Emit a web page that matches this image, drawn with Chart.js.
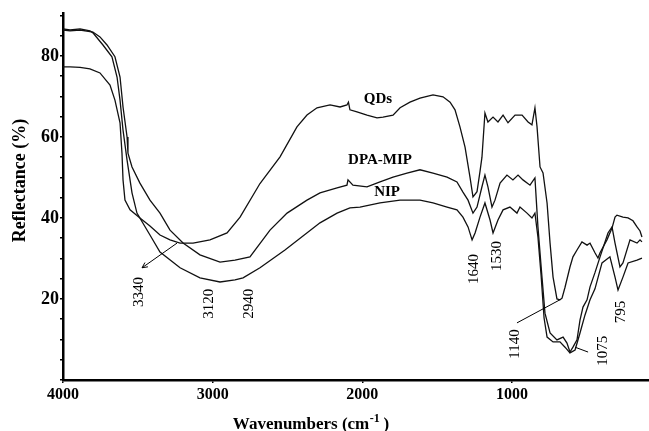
<!DOCTYPE html>
<html>
<head>
<meta charset="utf-8">
<script src="https://cdn.jsdelivr.net/npm/chart.js@4/dist/chart.umd.min.js"></script>
<style>
html,body{margin:0;padding:0;background:#fff;}
canvas{display:block;}
</style>
</head>
<body>
<canvas id="c" width="649" height="431"></canvas>
<script>
// ---- data (wavenumber in axis units as drawn, reflectance %) ----
const qdsX = [4000,3953,3886,3820,3753,3686,3653,3619,3606,3599,3586,3552,3486,3419,3352,3285,3218,3131,3018,2904,2817,2684,2550,2437,2370,2303,2216,2149,2103,2093,2083,2036,1969,1902,1862,1795,1748,1682,1615,1528,1461,1414,1381,1348,1314,1281,1261,1234,1214,1201,1181,1161,1127,1094,1060,1027,980,933,893,867,847,833,813,793,766,746,726,700,680,666,646,613,593,566,533,499,479,446,426,412,366,332,312,299,259,225,192,165,145,132];
const qdsY = [77.3,77.3,77.2,76.8,75.8,72.8,69.1,63.5,56.0,49.4,44.4,42.0,40.0,38.0,35.8,34.6,33.8,33.8,34.6,36.3,40.2,48.5,55.1,62.5,65.4,67.2,67.9,67.4,67.9,68.6,66.7,66.2,65.4,64.7,64.9,65.4,67.2,68.6,69.6,70.4,69.9,68.6,66.7,62.5,57.5,50.1,45.2,46.5,51.5,55.0,65.9,63.7,64.9,63.7,65.4,63.5,65.4,65.4,63.7,63.0,67.2,62.5,52.6,51.1,43.7,33.8,25.4,20.0,19.8,20.2,22.9,27.9,30.4,32.1,34.1,33.3,33.8,31.4,30.1,31.4,34.6,37.5,40.2,40.7,40.2,40.0,39.3,37.8,36.8,35.3];

const mipX = [4000,3953,3886,3820,3800,3753,3706,3653,3619,3599,3572,3566,3539,3486,3419,3352,3285,3198,3085,2951,2851,2751,2617,2503,2370,2283,2169,2103,2096,2063,1969,1882,1795,1702,1615,1528,1434,1368,1328,1294,1261,1234,1201,1181,1161,1134,1114,1080,1034,994,960,927,880,847,827,800,780,746,700,659,633,613,593,566,546,526,499,479,446,412,359,332,312,279,259,212,165,145,132];
const mipY = [86.4,86.2,86.4,86.0,85.9,84.7,82.7,79.8,74.8,67.4,60.0,56.0,52.6,48.6,44.4,41.2,37.0,33.8,30.9,29.1,29.6,30.4,37.0,41.2,44.4,46.2,47.4,48.1,49.4,48.1,47.7,48.9,50.1,51.1,51.9,51.1,50.1,48.9,46.4,44.4,41.2,42.7,47.7,50.6,47.7,42.7,44.4,48.6,50.6,49.4,50.6,49.4,48.1,49.9,37.8,25.4,16.5,11.6,9.9,10.6,9.1,6.9,8.1,9.9,14.8,18.0,19.8,23.0,26.5,30.4,36.3,37.8,33.8,27.9,28.9,34.6,33.8,34.6,34.1];

const nipX = [4000,3953,3886,3820,3800,3733,3673,3639,3619,3599,3572,3539,3506,3419,3352,3218,3085,2951,2851,2797,2684,2517,2283,2169,2083,2016,1882,1748,1615,1528,1434,1368,1328,1294,1267,1247,1214,1181,1147,1127,1094,1060,1014,967,947,900,867,847,827,806,786,766,726,680,646,613,579,546,513,479,446,399,346,312,292,259,225,165,132];
const nipY = [86.7,86.4,86.7,86.2,85.7,82.7,79.8,74.8,69.1,61.7,54.3,46.2,41.2,35.8,31.6,27.7,25.2,24.2,24.7,25.2,27.7,32.1,38.8,41.2,42.5,42.7,43.7,44.4,44.4,43.7,42.7,42.0,40.2,37.8,34.6,36.3,40.2,43.7,39.5,36.3,39.5,42.0,42.7,41.2,42.7,41.2,40.0,41.2,35.3,25.9,15.3,10.6,9.4,9.4,8.1,6.7,7.4,11.6,16.0,19.8,22.5,28.9,30.4,25.4,22.2,25.4,28.9,29.6,30.1];

const xTickValues = [4000,3000,2000,1000];
const yTickValues = [0,5,10,15,20,25,30,35,40,45,50,55,60,65,70,75,80,85,90];
const yLabelValues = [20,40,60,80];

// series names and their label anchors
const seriesNames = ['QDs','DPA-MIP','NIP'];
const seriesLabelX = [1896,1882,1835];
const seriesLabelY = [69.4,54.3,46.4];

// peak annotations
const peakText = ['3340','3120','2940','1640','1530','1140','1075','795'];
const peakX    = [3499,3031,2764,1261,1107,987,399,279];
const peakY    = [21.7,18.8,18.8,27.4,30.6,8.9,7.2,16.8];

// leader lines [x1,y1,x2,y2,arrowhead]
const leaderFromX = [3238, 967, 579];
const leaderFromY = [33.8, 14.1, 8.1];
const leaderToX   = [3472, 680, 492];
const leaderToY   = [27.7, 19.8, 6.9];
const leaderArrow = [true, false, false];

const toPts = (xs, ys) => xs.map((x, i) => ({x: x, y: ys[i]}));

const annot = {
  id: 'annot',
  afterDatasetsDraw(chart) {
    const {ctx, scales: {x, y}} = chart;
    ctx.save();
    ctx.fillStyle = '#000';
    ctx.strokeStyle = '#000';
    // series labels
    ctx.font = 'bold 15px "Liberation Serif"';
    ctx.textAlign = 'center';
    ctx.textBaseline = 'middle';
    seriesNames.forEach((n, i) => {
      ctx.fillText(n, x.getPixelForValue(seriesLabelX[i]), y.getPixelForValue(seriesLabelY[i]));
    });
    // peak labels (rotated)
    ctx.font = '15px "Liberation Serif"';
    peakText.forEach((t, i) => {
      ctx.save();
      ctx.translate(x.getPixelForValue(peakX[i]), y.getPixelForValue(peakY[i]));
      ctx.rotate(-Math.PI / 2);
      ctx.fillText(t, 0, 1);
      ctx.restore();
    });
    // leader lines
    ctx.lineWidth = 1;
    leaderFromX.forEach((_, i) => {
      const x1 = x.getPixelForValue(leaderFromX[i]), y1 = y.getPixelForValue(leaderFromY[i]);
      const x2 = x.getPixelForValue(leaderToX[i]), y2 = y.getPixelForValue(leaderToY[i]);
      ctx.beginPath(); ctx.moveTo(x1, y1); ctx.lineTo(x2, y2); ctx.stroke();
      if (leaderArrow[i]) {
        const a = Math.atan2(y2 - y1, x2 - x1), L = 6;
        ctx.beginPath();
        ctx.moveTo(x2 - L * Math.cos(a - 0.45), y2 - L * Math.sin(a - 0.45));
        ctx.lineTo(x2, y2);
        ctx.lineTo(x2 - L * Math.cos(a + 0.45), y2 - L * Math.sin(a + 0.45));
        ctx.stroke();
      }
    });
    ctx.restore();
  },
  afterDraw(chart) {
    const {ctx, chartArea} = chart;
    ctx.save();
    ctx.fillStyle = '#000';
    // y title
    ctx.font = 'bold 18px "Liberation Serif"';
    ctx.textAlign = 'center';
    ctx.textBaseline = 'middle';
    ctx.translate(20, (chartArea.top + chartArea.bottom) / 2 - 16);
    ctx.rotate(-Math.PI / 2);
    ctx.fillText('Reflectance (%)', 0, 0);
    ctx.restore();
    // x title with superscript
    ctx.save();
    ctx.fillStyle = '#000';
    ctx.textBaseline = 'alphabetic';
    ctx.textAlign = 'left';
    const big = 'bold 17px "Liberation Serif"', small = 'bold 12px "Liberation Serif"';
    const p1 = 'Wavenumbers (cm', p2 = '-1', p3 = ' )';
    ctx.font = big; const w1 = ctx.measureText(p1).width, w3 = ctx.measureText(p3).width;
    ctx.font = small; const w2 = ctx.measureText(p2).width;
    const total = w1 + w2 + w3;
    let sx = 311 - total / 2, base = 429;
    ctx.font = big; ctx.fillText(p1, sx, base);
    ctx.font = small; ctx.fillText(p2, sx + w1 + 0.5, base - 7);
    ctx.font = big; ctx.fillText(p3, sx + w1 + w2, base);
    ctx.restore();
  }
};

new Chart(document.getElementById('c'), {
  type: 'line',
  data: {
    datasets: [
      {label: seriesNames[0], data: toPts(qdsX, qdsY)},
      {label: seriesNames[1], data: toPts(mipX, mipY)},
      {label: seriesNames[2], data: toPts(nipX, nipY)}
    ].map(d => Object.assign(d, {borderColor: '#111', borderWidth: 1.3, pointRadius: 0, tension: 0, fill: false}))
  },
  options: {
    responsive: false,
    animation: false,
    devicePixelRatio: 1,
    layout: {padding: {top: 13, left: 0, right: 0, bottom: 0}},
    plugins: {legend: {display: false}, tooltip: {enabled: false}},
    scales: {
      x: {
        type: 'linear',
        reverse: true,
        min: 85, max: 4000,
        afterFit(s) { s.height = 51; },
        afterBuildTicks(s) { s.ticks = xTickValues.map(v => ({value: v})); },
        border: {display: true, color: '#000', width: 2.5},
        grid: {drawOnChartArea: false, drawTicks: true, tickLength: 3, color: '#000', lineWidth: 1.5},
        ticks: {autoSkip: false, maxRotation: 0, color: '#000', padding: 2,
                font: {family: 'Liberation Serif', weight: 'bold', size: 16},
                callback: v => String(v)}
      },
      y: {
        type: 'linear',
        min: 0, max: 90.6,
        afterFit(s) { s.width = 63; },
        afterBuildTicks(s) { s.ticks = yTickValues.map(v => ({value: v})); },
        border: {display: true, color: '#000', width: 2.5},
        grid: {drawOnChartArea: false, drawTicks: true, tickLength: 3, color: '#000', lineWidth: 1.5},
        ticks: {autoSkip: false, color: '#000', padding: 1,
                font: {family: 'Liberation Serif', weight: 'bold', size: 18},
                callback: v => yLabelValues.includes(v) ? String(v) : ''}
      }
    }
  },
  plugins: [annot]
});
</script>
</body>
</html>
